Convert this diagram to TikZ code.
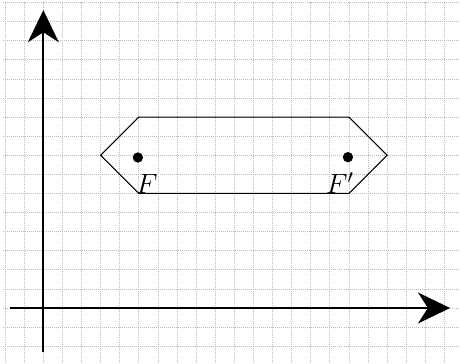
\documentclass[tikz,border=0pt]{standalone}
\usepackage{amsmath}
\usepackage{amssymb}
\usetikzlibrary{arrows.meta}

\tikzset{
  gridline/.style={gray!55, densely dotted, line width=0.5pt},
  axis/.style={line width=1.4pt, -{Stealth[length=8.4mm, width=8.1mm, inset=2.6mm]}},
  outline/.style={line width=0.8pt},
  focus/.style={inner sep=0pt, anchor=base west, font=\fontsize{22}{26}\selectfont}
}

\begin{document}
\begin{tikzpicture}[x=0.5cm, y=0.5cm]
  \useasboundingbox (-2.27,-2.93) rectangle (21.82,16.13);
  \draw[gridline, step=1] (-2.1,-2.95) grid (21.85,16.05);
  % axes
  \coordinate (xs) at (-1.75,0);
  \coordinate (xe) at (21.3,0);
  \coordinate (ys) at (0,-2.3);
  \coordinate (ye) at (0,15.6);
  \draw[axis] (xs) -- (xe);
  \draw[axis] (ys) -- (ye);
  % hexagon
  \coordinate (hl) at (3,8);
  \coordinate (htl) at (5,10);
  \coordinate (htr) at (16,10);
  \coordinate (hr) at (18,8);
  \coordinate (hbr) at (16,6);
  \coordinate (hbl) at (5,6);
  \draw[outline] (hl) -- (htl) -- (htr) -- (hr) -- (hbr) -- (hbl) -- cycle;
  % foci
  \coordinate (f1) at (4.95,7.88);
  \coordinate (f2) at (15.95,7.9);
  \fill (f1) circle (0.27);
  \fill (f2) circle (0.27);
  \node[focus] (lf1) at (4.85,6) {$F$};
  \node[focus] (lf2) at (14.8,6) {$F'$};
\end{tikzpicture}
\end{document}
